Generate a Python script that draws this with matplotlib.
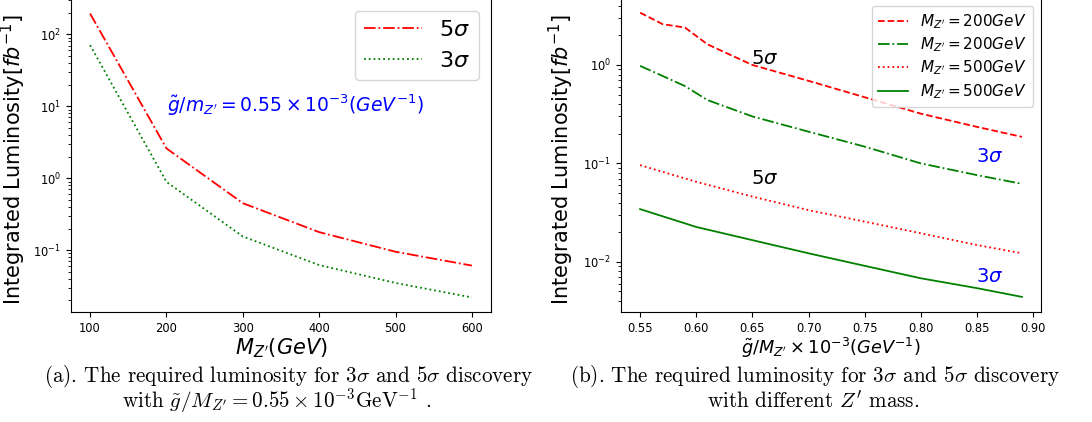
import matplotlib
matplotlib.use('Agg')
from matplotlib import pyplot as plt
#
# left panel: required luminosity vs Z' mass
# ------------------------------------------
#
mass = [100, 200, 300, 400, 500, 600]
lumi_5sig = [195, 2.6, 0.45, 0.178, 0.095, 0.061]
lumi_3sig = [71, 0.89, 0.155, 0.062, 0.035, 0.022]
#
# right panel: required luminosity vs g/M
# ---------------------------------------
#
g200_5sig = [0.55, 0.57, 0.59, 0.61, 0.65, 0.70, 0.75, 0.80, 0.85, 0.89]
lumi200_5sig = [3.4, 2.6, 2.4, 1.62, 1.0, 0.69, 0.47, 0.32, 0.235, 0.186]
g200_3sig = [0.55, 0.59, 0.61, 0.65, 0.70, 0.75, 0.80, 0.85, 0.89]
lumi200_3sig = [0.98, 0.61, 0.44, 0.30, 0.21, 0.148, 0.10, 0.076, 0.062]
g500 = [0.55, 0.60, 0.65, 0.70, 0.75, 0.80, 0.85, 0.89]
lumi500_5sig = [0.096, 0.065, 0.046, 0.0335, 0.0256, 0.0195, 0.0148, 0.0122]
lumi500_3sig = [0.0343, 0.0226, 0.0166, 0.0122, 0.0091, 0.0068, 0.0054, 0.0044]

W, H = 1092, 422
fig = plt.figure(figsize=(W / 100, H / 100), dpi=100)

plt.rcParams['xtick.labelsize'] = 8.3
plt.rcParams['ytick.labelsize'] = 8.3

# left axes
ax1 = fig.add_axes([71 / W, 110 / H, 420 / W, 1.02 - 110 / H])
ax1.plot(mass, lumi_5sig, 'r-.', lw=1.3, label=r'$5\sigma$')
ax1.plot(mass, lumi_3sig, 'g:', lw=1.3, label=r'$3\sigma$')
ax1.set_yscale('log')
ax1.set_ylim(10 ** -1.86, 10 ** 2.596)
ax1.set_xlim(75, 625)
ax1.set_xlabel(r"$M_{Z'}(GeV)$", fontsize=15, labelpad=1)
ax1.set_ylabel(r'Integrated Luminosity$[fb^{-1}]$', fontsize=15)
ax1.yaxis.set_label_coords(-0.102, 0.477)
ax1.text(201, 10.5, r"$\tilde{g}/m_{Z'}=0.55\times10^{-3}(GeV^{-1})$",
         color='b', fontsize=13.5, va='center', ha='left')
ax1.legend(loc='upper right', bbox_to_anchor=(479 / W, 1 - 11 / H),
           bbox_transform=fig.transFigure, borderaxespad=0,
           fontsize=16, handlelength=2.6)

# right axes
ax2 = fig.add_axes([621 / W, 110 / H, 420 / W, 1.02 - 110 / H])
ax2.plot(g200_5sig, lumi200_5sig, 'r--', lw=1.3, label=r"$M_{Z'}=200GeV$")
ax2.plot(g200_3sig, lumi200_3sig, 'g-.', lw=1.3, label=r"$M_{Z'}=200GeV$")
ax2.plot(g500, lumi500_5sig, 'r:', lw=1.3, label=r"$M_{Z'}=500GeV$")
ax2.plot(g500, lumi500_3sig, 'g-', lw=1.3, label=r"$M_{Z'}=500GeV$")
ax2.set_yscale('log')
ax2.set_ylim(10 ** -2.51, 10 ** 0.746)
ax2.set_xlabel(r"$\tilde{g}/M_{Z'}\times10^{-3}(GeV^{-1})$", fontsize=12.8, labelpad=1)
ax2.set_ylabel(r'Integrated Luminosity$[fb^{-1}]$', fontsize=15)
ax2.yaxis.set_label_coords(-0.107, 0.477)
ax2.text(0.661, 1.17, r'$5\sigma$', fontsize=14, ha='center', va='center')
ax2.text(0.661, 0.070, r'$5\sigma$', fontsize=14, ha='center', va='center')
ax2.text(0.861, 0.117, r'$3\sigma$', fontsize=14, color='b', ha='center', va='center')
ax2.text(0.861, 0.0071, r'$3\sigma$', fontsize=14, color='b', ha='center', va='center')
ax2.legend(loc='upper right', bbox_to_anchor=(1033 / W, 1 - 6 / H),
           bbox_transform=fig.transFigure, borderaxespad=0,
           fontsize=11, labelspacing=0.3)

# captions
cap = dict(family='cmr10', math_fontfamily='cm', fontsize=15.2, ha='center', va='center')
fig.text(289 / W, 1 - 376 / H,
         r'(a). The required luminosity for 3$\sigma$ and 5$\sigma$ discovery', **cap)
fig.text(277 / W, 1 - 401 / H,
         r"with $\tilde{g}/M_{Z'}=0.55\times10^{-3}$GeV$^{-1}$ .", **cap)
fig.text(815 / W, 1 - 376 / H,
         r'(b). The required luminosity for 3$\sigma$ and 5$\sigma$ discovery', **cap)
fig.text(813 / W, 1 - 401 / H,
         r"with different $Z'$ mass.", **cap)

fig.savefig('out.png', dpi=100)
